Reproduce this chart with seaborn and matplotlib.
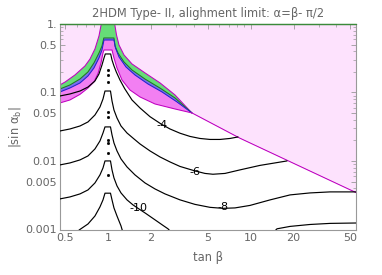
import matplotlib
matplotlib.use("Agg")
import matplotlib.pyplot as plt
import seaborn as sns

# boundary curves of the shaded regions (tan beta, |sin alpha_b|)
out_x = [0.458, 0.497, 0.583, 0.686, 0.744, 0.806, 0.860, 0.893, 1.109, 1.142, 1.189, 1.289, 1.467, 1.811, 2.307, 2.940, 3.871]
out_y = [0.129, 0.142, 0.180, 0.244, 0.308, 0.432, 0.668, 1.0, 1.0, 0.691, 0.494, 0.353, 0.261, 0.193, 0.138, 0.092, 0.050]

green_x = [0.458, 0.538, 0.633, 0.720, 0.793, 0.860, 0.903, 0.930, 1.096, 1.115, 1.170, 1.289, 1.467, 1.811, 2.307, 2.940, 3.871]
green_y = [0.1125, 0.1287, 0.1574, 0.1995, 0.2696, 0.377, 0.477, 0.625, 0.625, 0.477, 0.377, 0.279, 0.213, 0.157, 0.116, 0.0831, 0.0502]

blue_x = [0.458, 0.538, 0.633, 0.720, 0.793, 0.860, 0.903, 0.933, 1.096, 1.124, 1.189, 1.331, 1.540, 1.900, 2.384, 3.037, 3.871]
blue_y = [0.1017, 0.1163, 0.1376, 0.174, 0.2278, 0.319, 0.417, 0.584, 0.584, 0.446, 0.330, 0.2356, 0.180, 0.133, 0.1017, 0.0727, 0.0502]

low_x = [0.458, 0.538, 0.633, 0.720, 0.793, 0.847, 0.889, 0.918, 0.933, 1.062, 1.096, 1.151, 1.248, 1.419, 1.670, 2.128, 2.940, 3.871]
low_y = [0.0703, 0.0777, 0.0939, 0.116, 0.142, 0.19, 0.27, 0.377, 0.417, 0.417, 0.319, 0.2278, 0.152, 0.1088, 0.0860, 0.0679, 0.0574, 0.0502]

diag_x = [3.871, 8.41, 54.9]
diag_y = [0.0502, 0.02145, 0.00345]

# black contour lines
c4_x = [0.458, 0.538, 0.633, 0.720, 0.806, 0.860, 0.903, 0.933, 0.953, 1.039, 1.062, 1.096, 1.138, 1.208, 1.304, 1.467, 1.670, 1.963, 2.345, 2.712, 3.188, 3.748, 4.40, 5.18, 6.09, 7.16, 8.15]
c4_y = [0.0889, 0.0951, 0.105, 0.120, 0.1472, 0.186, 0.252, 0.319, 0.365, 0.365, 0.298, 0.244, 0.1995, 0.152, 0.1136, 0.0777, 0.0594, 0.0443, 0.0347, 0.0293, 0.0254, 0.0228, 0.0213, 0.0206, 0.0206, 0.0213, 0.0224]

c6_x = [0.458, 0.538, 0.633, 0.720, 0.806, 0.874, 0.918, 0.948, 1.036, 1.062, 1.096, 1.151, 1.228, 1.353, 1.515, 1.670, 1.963, 2.307, 2.712, 3.188, 4.06, 4.775, 5.43, 6.60, 8.41, 11.6, 14.8, 18.0]
c6_y = [0.0274, 0.0293, 0.0324, 0.0371, 0.0469, 0.0614, 0.0804, 0.105, 0.105, 0.0751, 0.0555, 0.0424, 0.0324, 0.0256, 0.02096, 0.0177, 0.0140, 0.01144, 0.00967, 0.00831, 0.00715, 0.00657, 0.00639, 0.00657, 0.0074, 0.0086, 0.00935, 0.0100]

c8_x = [0.458, 0.538, 0.633, 0.720, 0.806, 0.874, 0.918, 0.948, 1.036, 1.062, 1.096, 1.151, 1.228, 1.353, 1.540, 1.811, 2.128, 2.501, 3.188, 4.06, 5.18, 6.39, 7.76, 9.89, 13.7, 18.9, 26.1, 36.1, 54.9]
c8_y = [0.00875, 0.00935, 0.01035, 0.01183, 0.01497, 0.0196, 0.0256, 0.0314, 0.0314, 0.0240, 0.0183, 0.0140, 0.0107, 0.00818, 0.00625, 0.00477, 0.0039, 0.0033, 0.0027, 0.00232, 0.0021, 0.00203, 0.00206, 0.00224, 0.0027, 0.00319, 0.00341, 0.00353, 0.00353]

c10_x = [0.458, 0.538, 0.633, 0.720, 0.806, 0.874, 0.918, 0.948, 1.036, 1.062, 1.096, 1.151, 1.228, 1.353, 1.491, 1.617, 1.811, 2.128, 2.422, 2.626, 2.712]
c10_y = [0.00279, 0.00298, 0.0033, 0.00377, 0.00477, 0.00625, 0.0079, 0.0100, 0.0100, 0.0074, 0.00565, 0.00432, 0.00341, 0.0027, 0.00228, 0.00203, 0.00174, 0.00138, 0.001144, 0.00102, 0.00095]
c10b_x = [14.8, 15.3, 18.9, 26.1, 36.1, 54.9]
c10b_y = [0.00095, 0.00102, 0.001106, 0.00118, 0.001224, 0.00124]

c12_x = [0.613, 0.633, 0.720, 0.806, 0.874, 0.918, 0.948, 1.036, 1.062, 1.096, 1.151, 1.228, 1.258]
c12_y = [0.00095, 0.001, 0.0012, 0.00157, 0.00213, 0.0027, 0.00338, 0.00338, 0.0027, 0.00206, 0.00157, 0.001125, 0.00095]

# small contour fragments sitting on tan beta = 1
dots_y = [0.213, 0.180, 0.144, 0.0519, 0.0439, 0.0203, 0.0183, 0.0131, 0.00625]

labels = ["-4", "-6", "-8", "-10"]
label_x = [2.37, 4.06, 6.39, 1.62]
label_y = [0.0336, 0.00698, 0.00209, 0.00206]

xticks = [0.5, 1, 2, 5, 10, 20, 50]
xtick_labels = ["0.5", "1", "2", "5", "10", "20", "50"]
yticks = [0.001, 0.005, 0.01, 0.05, 0.1, 0.5, 1]
ytick_labels = ["0.001", "0.005", "0.01", "0.05", "0.1", "0.5", "1."]

sns.set_style("ticks")
plt.rcParams['font.family'] = ['DejaVu Sans']

fig = plt.figure(figsize=(3.82, 2.75), dpi=100)
ax = fig.add_axes([60 / 382, 45 / 275, 296 / 382, 206 / 275])
ax.set_xscale("log")
ax.set_yscale("log")
ax.set_facecolor("#fde2fd")


def region(xs, ys):
    # area below an arch, closed along the diagonal and the bottom
    px = list(xs) + diag_x[1:] + [100, 100, 0.3]
    py = list(ys) + diag_y[1:] + [diag_y[-1], 1e-4, 1e-4]
    return px, py


for (xs, ys), col in [((out_x, out_y), "#66dd77"), ((green_x, green_y), "#7a70ee"),
                      ((blue_x, blue_y), "#f27ff2"), ((low_x, low_y), "white")]:
    px, py = region(xs, ys)
    ax.fill(px, py, color=col, lw=0, zorder=1)

ax.plot(out_x, out_y, color="#c000c0", lw=0.75, zorder=2)
ax.plot(green_x, green_y, color="#1e7a1e", lw=0.75, zorder=2)
ax.plot(blue_x, blue_y, color="#2222cc", lw=0.75, zorder=2)
ax.plot(low_x + diag_x[1:], low_y + diag_y[1:], color="#c000c0", lw=0.75, zorder=2)

for xs, ys in [(c4_x, c4_y), (c6_x, c6_y), (c8_x, c8_y), (c10_x, c10_y), (c10b_x, c10b_y), (c12_x, c12_y)]:
    sns.lineplot(x=xs, y=ys, sort=False, estimator=None, color="black", lw=0.85, ax=ax, zorder=3)

ax.plot([1.0] * len(dots_y), dots_y, ls="none", marker="s", ms=1.0, color="black", zorder=3)

for t, lx, ly in zip(labels, label_x, label_y):
    ax.text(lx, ly, t, fontsize=8, ha="center", va="center", color="black", zorder=4)

ax.plot([0.458, 54.9], [1.0, 1.0], color="#3a8a3a", lw=1.0, zorder=3, clip_on=False)

ax.set_xlim(0.458, 54.9)
ax.set_ylim(0.00098, 1.0)
ax.set_xticks(xticks)
ax.set_xticklabels(xtick_labels)
ax.set_yticks(yticks)
ax.set_yticklabels(ytick_labels)
ax.tick_params(which="both", direction="in", top=True, right=True, color="#999999",
               labelcolor="#666666", labelsize=8, pad=2)
ax.tick_params(which="major", length=3.5, width=0.6)
ax.tick_params(which="minor", length=2, width=0.5)
for s in ax.spines.values():
    s.set_color("#999999")
    s.set_linewidth(0.8)

ax.set_xlabel("tan β", fontsize=8.3, color="#666666", labelpad=6)
ax.set_ylabel(r"|sin α$_\mathrm{b}$|", fontsize=8.3, color="#666666", labelpad=2)
ax.set_title("2HDM Type- II, alighment limit: α=β- π/2", fontsize=8.3, color="#666666", pad=5)

fig.savefig("out.png", dpi=100)
